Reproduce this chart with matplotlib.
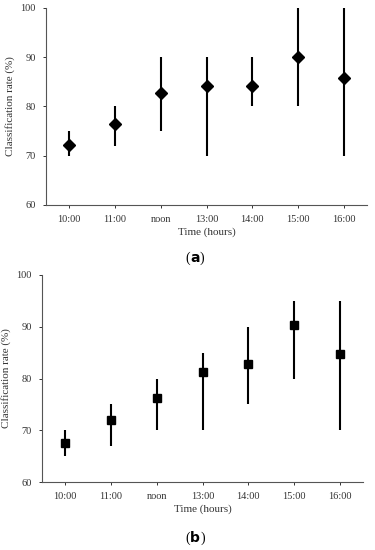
import numpy as np
import matplotlib.pyplot as plt

plt.rcParams['font.family'] = ['Liberation Serif', 'DejaVu Serif']

times = ['10:00', '11:00', 'noon', '13:00', '14:00', '15:00', '16:00']

# panel (a)
rate_a = [72.2, 76.4, 82.7, 84.2, 84.2, 90.0, 85.7]
low_a = [70, 72, 75, 70, 80, 80, 70]
high_a = [75, 80, 90, 90, 90, 100, 100]

# panel (b)
rate_b = [67.6, 72.0, 76.2, 81.2, 82.9, 90.3, 84.8]
low_b = [65, 67, 70, 70, 75, 80, 70]
high_b = [70, 75, 80, 85, 90, 95, 95]


def panel(ax, rate, low, high, marker, ms):
    x = np.arange(len(times))
    rate = np.array(rate)
    yerr = [rate - np.array(low), np.array(high) - rate]
    ax.errorbar(x, rate, yerr=yerr, fmt=marker, color='black', ms=ms,
                elinewidth=1.5, capsize=0)
    ax.set_xlim(-0.5, len(times) - 0.5)
    ax.set_ylim(60, 100)
    ax.set_yticks([60, 70, 80, 90, 100])
    ax.set_xticks(x)
    ax.set_xticklabels(times)
    for s in ['top', 'right']:
        ax.spines[s].set_visible(False)
    for s in ['left', 'bottom']:
        ax.spines[s].set_color('#555555')
        ax.spines[s].set_linewidth(0.8)
    ax.tick_params(labelsize=7.5, colors='#333333', length=2.5, width=0.7,
                   pad=5)
    ax.set_ylabel('Classification rate (%)', fontsize=8, color='#333333',
                  labelpad=4)
    ax.set_xlabel('Time (hours)', fontsize=8, color='#333333', labelpad=2)


fig = plt.figure(figsize=(3.75, 5.5), dpi=100)

ax1 = fig.add_axes([0.1227, 0.6273, 0.856, 0.3582])
panel(ax1, rate_a, low_a, high_a, 'D', 6)

ax2 = fig.add_axes([0.112, 0.1236, 0.856, 0.3764])
panel(ax2, rate_b, low_b, high_b, 's', 6)

fig.text(0.507, 0.531, '(', fontsize=10, ha='right', va='center')
fig.text(0.507, 0.531, 'a', fontsize=10, ha='left', va='center',
         family='DejaVu Sans', weight='bold')
fig.text(0.533, 0.531, ')', fontsize=10, ha='left', va='center')

fig.text(0.507, 0.022, '(', fontsize=10, ha='right', va='center')
fig.text(0.507, 0.022, 'b', fontsize=10, ha='left', va='center',
         family='DejaVu Sans', weight='bold')
fig.text(0.535, 0.022, ')', fontsize=10, ha='left', va='center')

fig.savefig('out.png', dpi=100)
